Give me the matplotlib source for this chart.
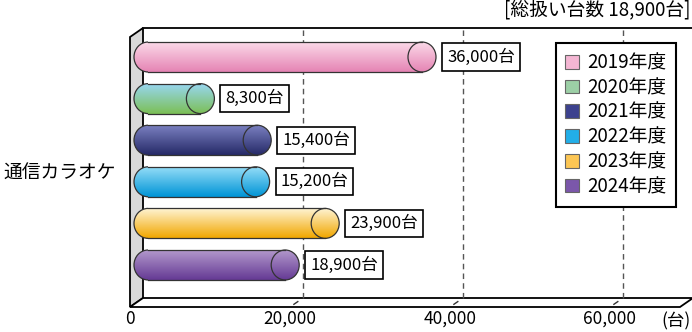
import numpy as np
import matplotlib
matplotlib.use("Agg")
import matplotlib.pyplot as plt
from matplotlib.patches import Rectangle, Ellipse, Arc, Polygon, Patch
from matplotlib.colors import LinearSegmentedColormap
from matplotlib.transforms import offset_copy

plt.rcParams['font.family'] = ['Noto Sans CJK JP', 'DejaVu Sans']

# data
years = ["2019年度", "2020年度", "2021年度", "2022年度", "2023年度", "2024年度"]
units = [36000, 8300, 15400, 15200, 23900, 18900]
value_labels = ["36,000台", "8,300台", "15,400台", "15,200台", "23,900台", "18,900台"]
category = "通信カラオケ"
title = "[総扱い台数 18,900台]"
ticks = [0, 20000, 40000, 60000]
tick_labels = ["0", "20,000", "40,000", "60,000"]

# gradient top / bottom colours and legend colours
top_colors = ["#fbd9e8", "#98d6ee", "#7a80c0", "#92dcf7", "#fff4d4", "#b298cc"]
bottom_colors = ["#e584b4", "#7bbf55", "#262a68", "#0094d6", "#f1a700", "#653a94"]
legend_colors = ["#f4b6d3", "#9ccfa6", "#3c418e", "#22aee8", "#fcc654", "#7b57aa"]

W, H = 692, 332
DX, DY = 13, 9          # depth of the box in pixels
CAP_PX = 28             # width of the cylinder end cap in pixels
PX_PER_UNIT = 8 / 1000  # horizontal scale

fig = plt.figure(figsize=(W / 100, H / 100), dpi=100)
# axes = front plane of the box
ax = fig.add_axes([130 / W, (H - 307) / H, 550 / W, 270 / H])
ax.patch.set_visible(False)
for s in ax.spines.values():
    s.set_visible(False)

xmax = 550 / PX_PER_UNIT
ax.set_xlim(0, xmax)
ax.set_ylim(6.01, -0.481)

# frame of the 3D box, in display pixels
fx0, fy0 = ax.transAxes.transform((0, 0))
fx1, fy1 = ax.transAxes.transform((1, 1))
wall = Polygon([(fx0, fy0), (fx0, fy1), (fx0 + DX, fy1 + DY), (fx0 + DX, fy0 + DY)],
               closed=True, facecolor="#d9d9d9", edgecolor="black", lw=1.3,
               transform=None, clip_on=False, zorder=0.5)
floor = Polygon([(fx0, fy0), (fx1, fy0), (fx1 + DX, fy0 + DY), (fx0 + DX, fy0 + DY)],
                closed=True, facecolor="white", edgecolor="black", lw=1.3,
                transform=None, clip_on=False, zorder=0.6)
ax.add_artist(wall)
ax.add_artist(floor)
ax.plot([fx0 + DX, fx1 + DX], [fy1 + DY, fy1 + DY], color="black", lw=1.3,
        transform=None, clip_on=False, zorder=0.6)

# dashed grid on the back wall + small marks on the floor
back = offset_copy(ax.get_xaxis_transform(), fig=fig, x=DX, y=DY, units="dots")
for t in ticks[1:]:
    ax.plot([t, t], [0, 1], transform=back, color="#555555", lw=1.0,
            linestyle=(0, (4, 3)), clip_on=False, zorder=1)
    x_front = ax.transData.transform((t, 0))[0]
    ax.plot([x_front + DX * 0.3, x_front + DX * 0.6], [fy0 + DY * 0.3, fy0 + DY * 0.6],
            color="#333333", lw=1.0, transform=None, clip_on=False, zorder=1)

# cylinders
bar_trans = offset_copy(ax.transData, fig=fig, x=4, y=0, units="dots")
cap_w = CAP_PX / PX_PER_UNIT
bar_h = 0.72
grad = np.linspace(0, 1, 64).reshape(-1, 1)
for i, (v, ct, cb) in enumerate(zip(units, top_colors, bottom_colors)):
    cmap = LinearSegmentedColormap.from_list(f"c{i}", [ct, cb])
    lc = cap_w / 2
    parts = [Rectangle((lc, i - bar_h / 2), v - lc, bar_h, transform=bar_trans),
             Ellipse((lc, i), cap_w, bar_h, transform=bar_trans),
             Ellipse((v, i), cap_w, bar_h, transform=bar_trans)]
    for p in parts:
        im = ax.imshow(grad, cmap=cmap, aspect="auto", interpolation="bilinear",
                       extent=(0, v + cap_w, i + bar_h / 2, i - bar_h / 2),
                       transform=bar_trans, zorder=3)
        im.set_clip_path(p)
    ec = "#333333"
    ax.plot([lc, v], [i - bar_h / 2, i - bar_h / 2], color=ec, lw=0.9, transform=bar_trans, zorder=4)
    ax.plot([lc, v], [i + bar_h / 2, i + bar_h / 2], color=ec, lw=0.9, transform=bar_trans, zorder=4)
    ax.add_patch(Arc((lc, i), cap_w, bar_h, theta1=90, theta2=270, color=ec, lw=0.9,
                     transform=bar_trans, zorder=4))
    ax.add_patch(Ellipse((v, i), cap_w, bar_h, facecolor="none", edgecolor=ec, lw=0.9,
                         transform=bar_trans, zorder=4))
    ax.annotate(value_labels[i], xy=(v, i), xycoords=bar_trans,
                xytext=(CAP_PX / 2 + 11, 0), textcoords="offset pixels",
                ha="left", va="center", fontsize=12, zorder=5,
                bbox=dict(boxstyle="square,pad=0.3", facecolor="white",
                          edgecolor="black", lw=1.2))

ax.set_xlim(0, xmax)
ax.set_ylim(6.01, -0.481)

# axis labels
ax.set_yticks([])
ax.set_xticks(ticks, tick_labels, fontsize=12.5)
ax.tick_params(axis="x", length=0, pad=2)
fig.text(691 / W, 1 - 321 / H, "(台)", ha="right", va="center", fontsize=12.5)
fig.text(691 / W, 1 - 10 / H, title, ha="right", va="center", fontsize=13.5)
fig.text(3 / W, 1 - 173 / H, category, ha="left", va="center", fontsize=13.5)

handles = [Patch(facecolor=c, edgecolor="#666666", lw=0.8) for c in legend_colors]
leg = ax.legend(handles, years, loc="upper left",
                bbox_to_anchor=(556 / W, 1 - 43 / H), bbox_transform=fig.transFigure,
                borderaxespad=0, fontsize=13.5, frameon=True, fancybox=False,
                framealpha=1, edgecolor="black", borderpad=0.5,
                handlelength=0.75, handleheight=0.75, handletextpad=0.4,
                labelspacing=0.2)
leg.get_frame().set_linewidth(1.5)
leg.set_zorder(6)

fig.savefig("out.png", dpi=100)
